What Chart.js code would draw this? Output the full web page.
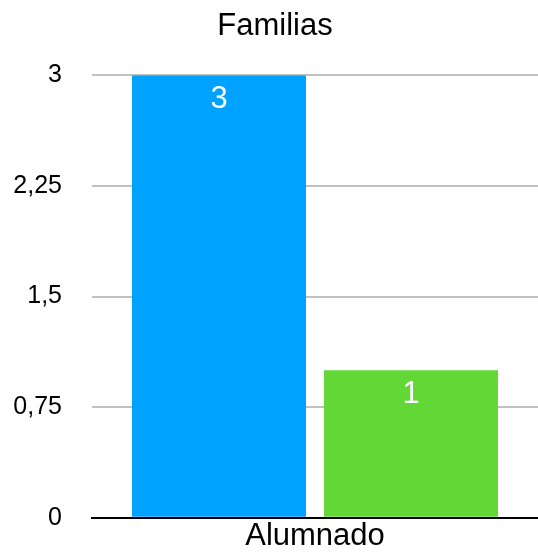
<!DOCTYPE html>
<html lang="es">
<head>
  <meta charset="UTF-8" />
  <title>Familias</title>
  <script src="https://cdn.jsdelivr.net/npm/chart.js"></script>
  <style>
    body { margin: 0; background: #fff; overflow: hidden; }
    canvas { display: block; }
  </style>
</head>
<body>
  <canvas id="chart" width="538" height="557"></canvas>
  <script>
    const categories = ["Alumnado"];
    const seriesNames = ["Serie 1", "Serie 2"];
    const seriesA = [3];
    const seriesB = [1];
    const yTicks = [0, 0.75, 1.5, 2.25, 3];

    const FONT = '"Liberation Sans", Arial, Helvetica, sans-serif';

    // draws the value inside the top of each bar
    const valueLabels = {
      id: 'valueLabels',
      afterDatasetsDraw(chart) {
        const ctx = chart.ctx;
        ctx.save();
        ctx.fillStyle = '#fff';
        ctx.font = '31px ' + FONT;
        ctx.textAlign = 'center';
        ctx.textBaseline = 'top';
        chart.data.datasets.forEach((ds, i) => {
          chart.getDatasetMeta(i).data.forEach((bar, j) => {
            ctx.fillText(String(ds.data[j]).replace('.', ','), bar.x, bar.y + 9);
          });
        });
        ctx.restore();
      }
    };

    new Chart(document.getElementById('chart'), {
      type: 'bar',
      data: {
        labels: categories,
        datasets: [
          { label: seriesNames[0], data: seriesA, backgroundColor: '#00a2ff' },
          { label: seriesNames[1], data: seriesB, backgroundColor: '#61d836' }
        ]
      },
      options: {
        responsive: false,
        animation: false,
        categoryPercentage: 0.861,
        barPercentage: 0.906,
        layout: { padding: { left: 12, right: 0, top: 8, bottom: 2 } },
        plugins: {
          legend: { display: false },
          tooltip: { enabled: false },
          title: {
            display: true,
            text: 'Familias',
            color: '#000',
            font: { family: FONT, size: 31, weight: 'normal' },
            padding: { top: 0, bottom: 30 }
          }
        },
        scales: {
          x: {
            grid: { display: false, drawTicks: false },
            border: { display: true, color: '#000', width: 2 },
            ticks: { color: '#000', font: { family: FONT, size: 31 }, padding: 0 }
          },
          y: {
            min: 0,
            max: 3,
            afterBuildTicks: axis => { axis.ticks = yTicks.map(v => ({ value: v })); },
            afterFit: s => { s.width = 80; },
            grid: { color: '#c0c0c0', lineWidth: 2, drawTicks: true, tickLength: 30, tickColor: 'rgba(0,0,0,0)' },
            border: { display: false },
            ticks: {
              color: '#000',
              padding: 0,
              font: { family: FONT, size: 25 },
              callback: v => String(v).replace('.', ',')
            }
          }
        }
      },
      plugins: [valueLabels]
    });
  </script>
</body>
</html>
